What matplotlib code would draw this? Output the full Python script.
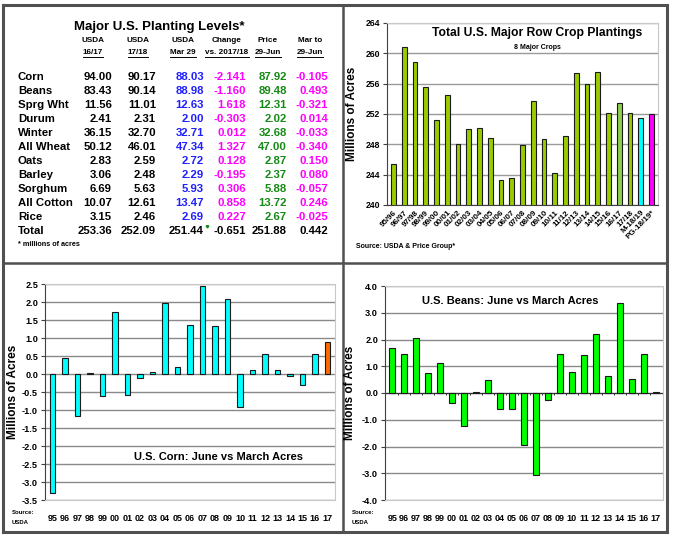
import matplotlib
matplotlib.use("Agg")
import matplotlib.pyplot as plt
import numpy as np

plt.rcParams.update({
    "font.family": "Liberation Sans",
    "font.weight": "bold",
    "axes.labelweight": "bold",
})

# ── table data (millions of acres) ───────────────────────────────────────────
crops = ["Corn", "Beans", "Sprg Wht", "Durum", "Winter", "All Wheat", "Oats",
         "Barley", "Sorghum", "All Cotton", "Rice", "Total"]
usda_1617 = [94.00, 83.43, 11.56, 2.41, 36.15, 50.12, 2.83, 3.06, 6.69, 10.07, 3.15, 253.36]
usda_1718 = [90.17, 90.14, 11.01, 2.31, 32.70, 46.01, 2.59, 2.48, 5.63, 12.61, 2.46, 252.09]
usda_mar29 = [88.03, 88.98, 12.63, 2.00, 32.71, 47.34, 2.72, 2.29, 5.93, 13.47, 2.69, 251.44]
chg_vs_1718 = [-2.141, -1.160, 1.618, -0.303, 0.012, 1.327, 0.128, -0.195, 0.306, 0.858, 0.227, -0.651]
price_jun29 = [87.92, 89.48, 12.31, 2.02, 32.68, 47.00, 2.87, 2.37, 5.88, 13.72, 2.67, 251.88]
mar_to_jun = [-0.105, 0.493, -0.321, 0.014, -0.033, -0.340, 0.150, 0.080, -0.057, 0.246, -0.025, 0.442]

hdr_top = ["USDA", "USDA", "USDA", "Change", "Price", "Mar to"]
hdr_bot = ["16/17", "17/18", "Mar 29", "vs. 2017/18", "29-Jun", "29-Jun"]

# ── total plantings ──────────────────────────────────────────────────────────
tot_years = ["95/96", "96/97", "97/98", "98/99", "99/00", "00/01", "01/02", "02/03",
             "03/04", "04/05", "05/06", "06/07", "07/08", "08/09", "09/10", "10/11",
             "11/12", "12/13", "13/14", "14/15", "15/16", "16/17", "17/18",
             "M-18/19", "PG-18/19*"]
tot_acres = [245.4, 260.9, 258.8, 255.6, 251.2, 254.5, 248.0, 250.0, 250.1, 248.9,
             243.3, 243.5, 247.9, 253.7, 248.7, 244.2, 249.1, 257.4, 256.0, 257.5,
             252.1, 253.4, 252.1, 251.5, 252.0]

# ── June vs March changes ────────────────────────────────────────────────────
yrs = ["95", "96", "97", "98", "99", "00", "01", "02", "03", "04", "05", "06",
       "07", "08", "09", "10", "11", "12", "13", "14", "15", "16", "17"]
corn_chg = [-3.30, 0.45, -1.18, 0.03, -0.60, 1.72, -0.58, -0.10, 0.06, 1.98, 0.19, 1.37,
            2.44, 1.34, 2.08, -0.92, 0.12, 0.55, 0.11, -0.05, -0.30, 0.56, 0.90]
bean_chg = [1.68, 1.44, 2.07, 0.75, 1.12, -0.38, -1.22, 0.05, 0.50, -0.60, -0.60, -1.96,
            -3.05, -0.27, 1.47, 0.80, 1.42, 2.20, 0.63, 3.35, 0.53, 1.47, 0.04]

W, H = 673, 539
fig = plt.figure(figsize=(W / 100, H / 100), dpi=100)
fig.patch.set_facecolor("white")


def px_axes(l, r, t, b):
    return fig.add_axes([l / W, 1 - b / H, (r - l) / W, (b - t) / H])


bg = fig.add_axes([0, 0, 1, 1])
bg.set_xlim(0, W)
bg.set_ylim(H, 0)
bg.axis("off")

# panel frame
FR = "#505050"
bg.plot([3, 667, 667, 3, 3], [5, 5, 532, 532, 5], color=FR, lw=2.2, solid_joinstyle="miter")
bg.plot([343, 343], [5, 532], color=FR, lw=1.8)
bg.plot([3, 667], [263, 263], color=FR, lw=1.8)

# ── table panel ──────────────────────────────────────────────────────────────
bg.text(159, 27, "Major U.S. Planting Levels*", fontsize=9.5, ha="center", va="center")
hdr_x = [93, 138, 183, 227, 268, 310]
fig.canvas.draw()
ren = fig.canvas.get_renderer()
for x, t1, t2 in zip(hdr_x, hdr_top, hdr_bot):
    bg.text(x, 41, t1, fontsize=5.9, ha="center", va="center")
    tt = bg.text(x, 53, t2, fontsize=5.9, ha="center", va="center")
    bb = tt.get_window_extent(renderer=ren)
    (x0, y0), (x1, y1) = bg.transData.inverted().transform([[bb.x0, bb.y0], [bb.x1, bb.y1]])
    bg.plot([x0, x1], [y0 + 0.8, y0 + 0.8], color="black", lw=0.7)

col_right = [112, 156, 204, 246, 287, 328]
col_fmt = ["{:.2f}", "{:.2f}", "{:.2f}", "{:.3f}", "{:.2f}", "{:.3f}"]
col_color = ["black", "black", "#1F1FFF", "#FF00FF", "#158A15", "#FF00FF"]
cols = [usda_1617, usda_1718, usda_mar29, chg_vs_1718, price_jun29, mar_to_jun]
for i, name in enumerate(crops):
    y = 77 + 14 * i
    bg.text(18, y, name, fontsize=8.2, ha="left", va="center")
    for c, vals in enumerate(cols):
        colr = "black" if name == "Total" else col_color[c]
        bg.text(col_right[c], y, col_fmt[c].format(vals[i]), fontsize=8.2,
                ha="right", va="center", color=colr)
bg.plot([206.5], [226], marker=(3, 0, 180), ms=2.2, color="#158A15")
bg.text(18, 245, "* millions of acres", fontsize=5.2, ha="left", va="center")

# ── total plantings chart ────────────────────────────────────────────────────
ax1 = px_axes(387, 658, 23, 205)
x1 = np.arange(len(tot_years))
c1 = ["#99CC00"] * len(tot_years)
c1[tot_years.index("16/17")] = "#8FCF4F"
c1[tot_years.index("M-18/19")] = "#00FFFF"
c1[tot_years.index("PG-18/19*")] = "#FF00FF"
ax1.bar(x1, tot_acres, width=0.45, color=c1, edgecolor="#1a1a1a", linewidth=0.8, zorder=3)
ax1.set_ylim(240, 264)
ax1.set_xlim(-0.6, len(tot_years) - 0.4)
ax1.set_yticks(np.arange(240, 265, 4))
ax1.yaxis.grid(True, color="#9A9A9A", lw=1.0, zorder=0)
ax1.set_xticks(x1)
ax1.set_xticklabels(tot_years, rotation=45, ha="right", rotation_mode="anchor", fontsize=5.8)
ax1.tick_params(axis="x", length=0, pad=3)
ax1.tick_params(axis="y", length=3, labelsize=6.2, pad=2, color="#404040")
ax1.set_ylabel("Millions of Acres", fontsize=8.5)
ax1.yaxis.set_label_coords(-0.108, 0.5)
for s in ["top", "right"]:
    ax1.spines[s].set_color("#C8C8C8")
ax1.spines["left"].set_color("#404040")
ax1.spines["bottom"].set_color("#404040")
ax1.text(0.555, 0.945, "Total U.S. Major Row Crop Plantings", transform=ax1.transAxes,
         fontsize=8.7, ha="center", va="center")
ax1.text(0.555, 0.865, "8 Major Crops", transform=ax1.transAxes, fontsize=5,
         ha="center", va="center")
bg.text(356, 247, "Source: USDA & Price Group*", fontsize=5, ha="left", va="center")

# ── corn chart ───────────────────────────────────────────────────────────────
ax2 = px_axes(45, 335, 284, 500)
xc = np.arange(len(yrs))
c2 = ["#00FFFF"] * len(yrs)
c2[-1] = "#FF6A00"
ax2.bar(xc, corn_chg, width=0.45, color=c2, edgecolor="#1a1a1a", linewidth=0.8, zorder=3)
ax2.set_ylim(-3.5, 2.5)
ax2.set_xlim(-0.6, len(yrs) - 0.4)
ax2.set_yticks(np.arange(-3.5, 2.51, 0.5))
ax2.set_yticklabels([f"{v:.1f}" for v in np.arange(-3.5, 2.51, 0.5)])
ax2.yaxis.grid(True, color="#8A8A8A", lw=1.0, zorder=0)
ax2.set_xticks(xc)
ax2.set_xticklabels(yrs, fontsize=6.5)
ax2.tick_params(axis="x", length=0, pad=10)
ax2.tick_params(axis="y", length=3, labelsize=6.6, pad=2, color="#404040")
ax2.set_ylabel("Millions of Acres", fontsize=8.5)
ax2.yaxis.set_label_coords(-0.09, 0.5)
for s in ["top", "right", "bottom"]:
    ax2.spines[s].set_color("#C8C8C8")
ax2.spines["left"].set_color("#404040")
ax2.text(0.6, 0.2, "U.S. Corn: June vs March Acres", transform=ax2.transAxes,
         fontsize=8, ha="center", va="center")
bg.text(12, 512, "Source:", fontsize=4.3, ha="left", va="center")
bg.text(12, 523, "USDA", fontsize=4.3, ha="left", va="center")

# ── beans chart ──────────────────────────────────────────────────────────────
ax3 = px_axes(385, 663, 286, 500)
ax3.bar(xc, bean_chg, width=0.45, color="#00FF00", edgecolor="#1a1a1a", linewidth=0.8, zorder=3)
ax3.set_ylim(-4, 4)
ax3.set_xlim(-0.6, len(yrs) - 0.4)
ax3.set_yticks(np.arange(-4, 4.1, 1))
ax3.set_yticklabels([f"{v:.1f}" for v in np.arange(-4, 4.1, 1)])
ax3.yaxis.grid(True, color="#8A8A8A", lw=1.0, zorder=0)
ax3.axhline(0, color="#303030", lw=0.8, zorder=2)
ax3.vlines(xc[:-1] + 0.5, -0.09, 0, color="#303030", lw=0.7, zorder=2)
ax3.set_xticks(xc)
ax3.set_xticklabels(yrs, fontsize=6.5)
ax3.tick_params(axis="x", length=0, pad=10)
ax3.tick_params(axis="y", length=3, labelsize=6.6, pad=2, color="#404040")
ax3.set_ylabel("Millions of Acres", fontsize=8.5)
ax3.yaxis.set_label_coords(-0.103, 0.5)
for s in ["top", "right", "bottom"]:
    ax3.spines[s].set_color("#C8C8C8")
ax3.spines["left"].set_color("#404040")
ax3.text(0.45, 0.93, "U.S. Beans: June vs March Acres", transform=ax3.transAxes,
         fontsize=8, ha="center", va="center")
bg.text(352, 512, "Source:", fontsize=4.3, ha="left", va="center")
bg.text(352, 523, "USDA", fontsize=4.3, ha="left", va="center")

fig.savefig("out.png", dpi=100)
